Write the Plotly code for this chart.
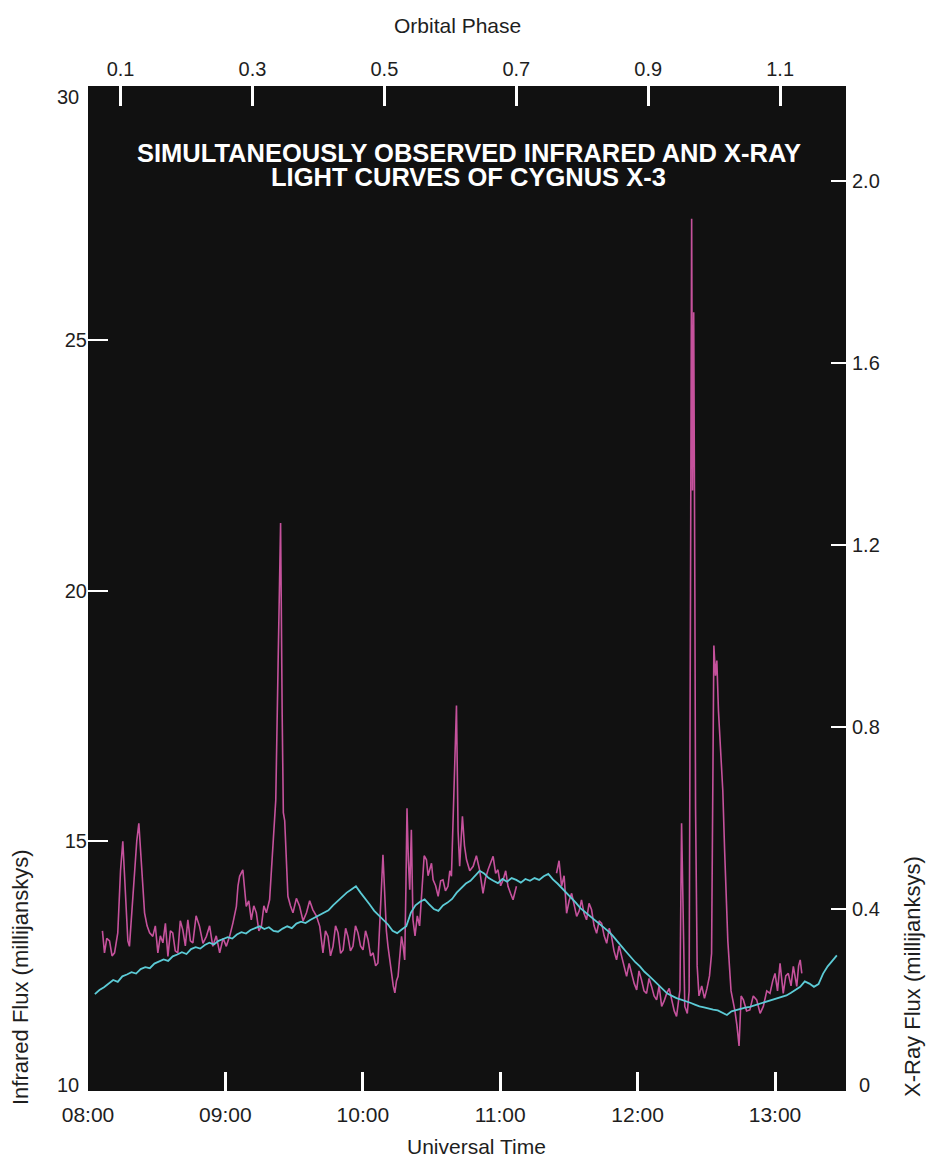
import pandas as pd
import plotly.graph_objects as go

DAY = "1983-06-01"

# ---------------- data ----------------
# Infrared light curve: minutes after 08:00 UT and flux in millijanskys
ir_minutes = [
    6.3, 7.2, 8.2, 9.4, 10.5, 11.6, 13.0, 14.2, 15.2, 16.0, 16.7, 17.4, 18.1, 19.2, 20.3, 21.3,
    22.2, 23.2, 24.0, 24.7, 25.8, 26.9, 28.3, 29.4, 30.5, 31.6, 32.7, 33.8, 34.9, 36.0, 37.0,
    38.1, 39.2, 40.3, 41.4, 42.5, 43.6, 44.7, 45.8, 47.2, 48.7, 50.2, 51.7, 53.1, 54.5, 56.0,
    57.5, 59.0, 60.4, 61.9, 63.3, 64.8, 65.5, 66.2, 67.6, 68.4, 69.1, 70.2, 71.3, 72.4, 73.5,
    74.6, 75.7, 76.8, 77.9, 79.3, 80.8, 82.0, 83.0, 84.1, 84.8, 85.3, 85.9, 86.6, 87.3, 88.4,
    89.5, 91.0, 92.4, 93.9, 95.4, 96.8, 98.2, 99.7, 101.2, 102.6, 103.7, 104.8, 105.9, 107.0,
    108.1, 109.2, 110.3, 111.4, 112.5, 113.5, 114.6, 115.7, 116.8, 117.9, 119.0, 120.1, 121.2,
    122.3, 123.4, 124.5, 125.6, 126.6, 127.4, 128.1, 128.8, 129.6, 130.3, 131.0, 131.8, 132.5,
    133.3, 134.0, 134.7, 135.4, 136.2, 136.9, 137.6, 138.3, 138.8, 139.3, 139.9, 140.5, 141.2,
    141.9, 142.8, 143.8, 144.8, 145.8, 146.8, 147.8, 148.5, 149.2, 150.0, 150.7, 151.8, 152.9,
    154.0, 155.0, 156.1, 157.2, 158.0, 158.7, 159.5, 160.2, 160.9, 161.6, 162.3, 162.9, 163.5,
    164.4, 165.3, 166.7, 168.2, 169.6, 171.0, 172.5, 173.6, 174.7, 175.8, 176.9, 178.0, 179.0,
    180.2, 181.3, 182.4, 183.4, 184.5, 185.6, 187.1, 195.0,
    204.6, 205.7, 206.8, 207.9, 209.0, 210.1, 211.2, 212.3, 213.4, 214.5, 215.5, 216.6, 217.7,
    218.8, 219.9, 221.0, 222.1, 223.2, 224.3, 225.4, 226.5, 227.6, 228.6, 229.7, 230.8, 231.9,
    233.0, 234.1, 235.2, 236.3, 237.4, 238.5, 239.6, 240.6, 241.7, 242.8, 243.9, 245.0, 246.1,
    247.2, 248.3, 249.4, 250.5, 251.6, 252.7, 253.8, 254.9, 256.0, 257.0, 258.0, 258.5, 259.2,
    259.9, 260.6, 261.7, 262.5, 263.1, 263.6, 264.0, 264.5, 265.0, 265.3, 266.0, 266.8, 268.0,
    269.2, 270.3, 271.4, 272.3, 272.8, 273.3, 274.0, 274.6, 275.3, 276.0, 277.2, 278.0, 279.4,
    280.8, 281.7, 282.5, 283.4, 284.3, 285.2, 286.2, 287.6, 289.0, 290.5, 292.0, 293.5, 294.9,
    296.4, 297.8, 299.0, 300.0, 301.1, 302.2, 303.6, 304.7, 305.8, 307.0, 308.0, 309.5, 310.3,
    311.0, 311.7,
]
ir_flux = [
    13.20, 12.76, 13.05, 13.00, 12.70, 12.76, 13.16, 14.40, 14.99, 14.30, 13.69, 13.00, 12.89, 13.60, 14.52, 15.00,
    15.35, 14.69, 14.00, 13.56, 13.30, 13.16, 13.09, 13.30, 12.76, 13.10, 12.96, 13.35, 12.69, 13.20, 13.16,
    12.80, 12.76, 13.40, 13.22, 12.90, 13.42, 13.00, 12.96, 13.50, 13.29, 12.95, 13.09, 13.30, 12.89, 13.10,
    12.76, 13.05, 12.89, 13.10, 13.36, 13.69, 14.10, 14.29, 14.42, 14.00, 13.69, 13.80, 13.42, 13.70, 13.56,
    13.20, 13.29, 13.70, 13.56, 13.82, 14.89, 15.82, 18.50, 21.35, 17.50, 15.56, 15.40, 14.60, 13.89, 13.70,
    13.56, 13.85, 13.69, 13.40, 13.56, 13.80, 13.62, 13.50, 13.29, 12.76, 13.20, 13.09, 12.70, 12.89,
    13.30, 13.16, 12.75, 12.82, 13.25, 13.09, 12.80, 12.89, 13.30, 13.16, 12.90, 12.82, 13.20,
    13.02, 12.70, 12.76, 12.50, 12.56, 13.20, 14.02, 14.72, 13.69, 13.20, 12.89, 12.60, 12.35,
    12.10, 11.96, 12.20, 12.29, 12.80, 13.09, 12.90, 12.62, 14.00, 15.65, 14.60, 14.02, 15.22,
    13.42, 13.10, 13.50, 13.30, 14.00, 14.70, 14.62, 14.30, 14.42, 14.55, 14.22, 14.10, 13.89,
    14.20, 14.22, 14.00, 14.09, 14.40, 14.29, 15.50, 17.00, 17.70, 15.20, 14.49, 15.00, 15.49,
    14.90, 14.62, 14.40, 14.49, 14.70, 14.42, 13.95, 14.25, 14.42, 14.55, 14.69, 14.35, 14.42,
    14.10, 14.22, 14.40, 14.09, 13.95, 13.82, 14.09, None,
    14.35, 14.60, 14.09, 14.30, 13.55, 13.80, 13.95, 13.70, 13.49, 13.60, 13.82, 13.55, 13.42,
    13.75, 13.62, 13.30, 13.15, 13.40, 13.35, 13.10, 12.95, 13.25, 13.09, 12.80, 12.62, 12.90,
    12.69, 12.50, 12.29, 12.55, 12.35, 12.15, 12.02, 12.40, 12.22, 12.00, 11.95, 12.25, 12.09,
    11.90, 11.82, 12.10, 11.69, 11.80, 11.95, 12.05, 11.82, 11.60, 11.49, 11.90, 12.02, 15.35,
    13.00, 11.69, 11.55, 12.00, 20.00, 27.43, 22.00, 25.56, 20.00, 15.68, 12.50, 11.90, 12.10,
    11.85, 12.05, 12.30, 12.75, 16.00, 18.90, 18.30, 18.60, 17.60, 17.00, 16.00, 14.80, 13.00,
    12.00, 11.80, 11.60, 11.30, 10.90, 11.90, 11.82, 11.60, 11.62, 11.90, 11.82, 11.55, 11.69,
    12.00, 11.95, 12.20, 12.35, 12.00, 12.55, 11.95, 12.30, 12.35, 12.10, 12.49, 12.09, 12.50,
    12.62, 12.35,
]

# X-ray light curve: sampled every 2 minutes from 08:03 UT
xray_minutes = list(range(3, 329, 2))
xray_flux = [
    0.213, 0.222, 0.228, 0.236, 0.244, 0.240, 0.252, 0.256, 0.261, 0.258, 0.268, 0.272, 0.270, 0.280,
    0.284, 0.289, 0.286, 0.296, 0.300, 0.305, 0.301, 0.312, 0.316, 0.313, 0.321, 0.326, 0.322, 0.330,
    0.334, 0.338, 0.335, 0.344, 0.349, 0.346, 0.354, 0.358, 0.362, 0.356, 0.360, 0.352, 0.350, 0.357,
    0.362, 0.358, 0.368, 0.372, 0.369, 0.376, 0.381, 0.386, 0.392, 0.397, 0.408, 0.418, 0.428, 0.436,
    0.443, 0.450, 0.436, 0.424, 0.410, 0.396, 0.386, 0.375, 0.366, 0.352, 0.347, 0.355, 0.362, 0.392,
    0.408, 0.416, 0.421, 0.410, 0.400, 0.396, 0.408, 0.414, 0.422, 0.436, 0.447, 0.456, 0.462, 0.474,
    0.484, 0.478, 0.468, 0.462, 0.457, 0.466, 0.460, 0.468, 0.464, 0.458, 0.466, 0.462, 0.468, 0.464,
    0.472, 0.477, 0.465, 0.456, 0.446, 0.435, 0.424, 0.414, 0.402, 0.394, 0.386, 0.378, 0.370, 0.361,
    0.352, 0.342, 0.331, 0.318, 0.306, 0.294, 0.283, 0.274, 0.262, 0.253, 0.243, 0.233, 0.222, 0.214,
    0.209, 0.204, 0.201, 0.198, 0.194, 0.190, 0.186, 0.184, 0.181, 0.179, 0.177, 0.172, 0.167, 0.175,
    0.178, 0.180, 0.183, 0.185, 0.188, 0.191, 0.194, 0.197, 0.200, 0.203, 0.206, 0.210, 0.216, 0.222,
    0.229, 0.241, 0.236, 0.229, 0.235, 0.258, 0.274, 0.286, 0.298,
]

time_tick_labels = ["08:00", "09:00", "10:00", "11:00", "12:00", "13:00"]
phase_ticks = [0.1, 0.3, 0.5, 0.7, 0.9, 1.1]
ir_ticks = [15, 20, 25]
xray_ticks = [0.4, 0.8, 1.2, 1.6, 2.0]

PHASE_AT_0800 = 0.0506      # orbital phase at 08:00 UT
PERIOD_H = 4.8              # orbital period, hours
SPAN_MIN = 331              # time axis spans 08:00 - 13:31

# ---------------- figure ----------------
base = pd.Timestamp(f"{DAY} 08:00")


def to_time(mins):
    return [base + pd.Timedelta(minutes=m) for m in mins]


PINK = "#c5529c"
CYAN = "#5ccbd6"
TXT = "#1e1e1e"
FONT = "Liberation Sans, Arial, sans-serif"

W, H = 926, 1160
L, R, T, B = 88, 80, 86, 69
PW, PH = W - L - R, H - T - B


def px_x(x):  # page pixel -> paper x
    return (x - L) / PW


def px_y(y):  # page pixel -> paper y
    return (H - B - y) / PH


fig = go.Figure()
fig.add_trace(go.Scatter(
    x=to_time(xray_minutes), y=xray_flux, yaxis="y2", mode="lines",
    line=dict(color=CYAN, width=1.8), showlegend=False, hoverinfo="skip"))
fig.add_trace(go.Scatter(
    x=to_time(ir_minutes), y=ir_flux, mode="lines",
    line=dict(color=PINK, width=1.6), connectgaps=False, showlegend=False, hoverinfo="skip"))
# carrier for the orbital-phase axis on top
fig.add_trace(go.Scatter(
    x=phase_ticks, y=[None] * len(phase_ticks), xaxis="x2", mode="lines",
    showlegend=False, hoverinfo="skip"))

common = dict(ticks="inside", tickcolor="white", showgrid=False, zeroline=False, showline=False)

fig.update_layout(
    width=W, height=H,
    margin=dict(l=L, r=R, t=T, b=B),
    paper_bgcolor="white", plot_bgcolor="#111111",
    font=dict(family=FONT, color=TXT),
    xaxis=dict(type="date", range=[base, base + pd.Timedelta(minutes=SPAN_MIN)],
               tickvals=[f"{DAY} {t}" for t in time_tick_labels], ticktext=time_tick_labels,
               ticklen=19, tickwidth=2.5, ticklabelstandoff=9,
               tickfont=dict(family=FONT, size=21, color=TXT), **common),
    xaxis2=dict(overlaying="x", side="top", anchor="y",
                range=[PHASE_AT_0800, PHASE_AT_0800 + SPAN_MIN / 60 / PERIOD_H],
                tickvals=phase_ticks, ticktext=[f"{p:.1f}" for p in phase_ticks],
                ticklen=20, tickwidth=2.5, ticklabelstandoff=5,
                tickfont=dict(family=FONT, size=20, color=TXT), **common),
    yaxis=dict(range=[10, 30.08], tickvals=ir_ticks, ticktext=[str(v) for v in ir_ticks],
               ticklen=20, tickwidth=2,
               tickfont=dict(family=FONT, size=20, color=TXT), **common),
    yaxis2=dict(overlaying="y", side="right", anchor="x", range=[0, 2.2088],
                tickvals=xray_ticks, ticktext=[f"{v:.1f}" for v in xray_ticks],
                ticklen=15, tickwidth=2, ticklabelstandoff=5,
                tickfont=dict(family=FONT, size=20, color=TXT), **common),
)

TITLE_FONT = dict(size=25.5, color="white", family="Liberation Sans, Arial, sans-serif", weight="bold")
for text, cx, cy in [("SIMULTANEOUSLY OBSERVED INFRARED AND X-RAY", 469, 153),
                     ("LIGHT CURVES OF CYGNUS X-3", 468, 177)]:
    fig.add_annotation(text=text, xref="paper", yref="paper", x=px_x(cx), y=px_y(cy),
                       xanchor="center", yanchor="middle", height=22, valign="middle",
                       showarrow=False, font=TITLE_FONT)

ann = [
    dict(text="Orbital Phase", x=px_x(457), y=px_y(25), font=dict(size=21, color=TXT, family=FONT)),
    dict(text="Infrared Flux (millijanskys)", x=px_x(21), y=px_y(977), textangle=-90,
         font=dict(size=22, color=TXT, family=FONT)),
    dict(text="X-Ray Flux (millijanksys)", x=px_x(913), y=px_y(977), textangle=-90,
         font=dict(size=22, color=TXT, family=FONT)),
]
for a in ann:
    fig.add_annotation(xref="paper", yref="paper", showarrow=False,
                       xanchor="center", yanchor="middle", **a)
fig.add_annotation(text="Universal Time", xref="paper", yref="paper", x=px_x(476), y=px_y(1159.5),
                   xanchor="center", yanchor="bottom", showarrow=False,
                   font=dict(size=21, color=TXT, family=FONT))

# end labels of the two flux scales
end_font = dict(size=20, color=TXT, family=FONT)
fig.add_annotation(text="30", xref="paper", yref="paper", x=px_x(81), y=px_y(97),
                   xanchor="right", yanchor="middle", showarrow=False, font=end_font)
fig.add_annotation(text="10", xref="paper", yref="paper", x=px_x(81), y=px_y(1085),
                   xanchor="right", yanchor="middle", showarrow=False, font=end_font)
fig.add_annotation(text="0", xref="paper", yref="paper", x=px_x(857), y=px_y(1085),
                   xanchor="left", yanchor="middle", showarrow=False, font=end_font)

fig.write_html("out.html", config={"displayModeBar": False},
               post_script="document.body.style.margin='0px';")
